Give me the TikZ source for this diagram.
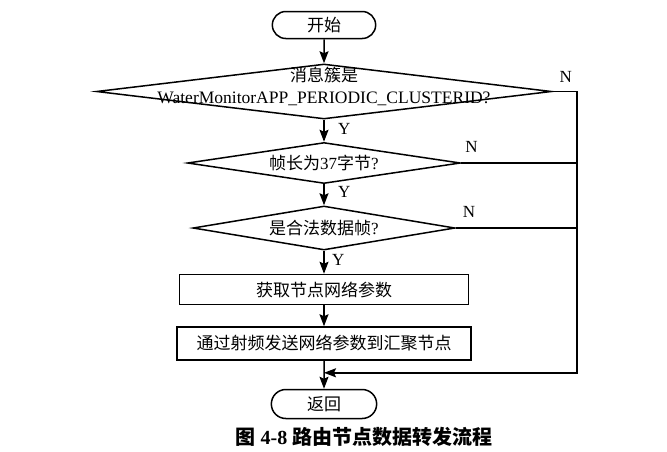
\documentclass[tikz,border=0pt]{standalone}
\usepackage{fontspec}
\setmainfont{Liberation Serif}
\newfontfamily\cjk{Noto Sans CJK SC}
\usetikzlibrary{arrows.meta,positioning,shapes.geometric,shapes.misc,calc}

\begin{document}
\begin{tikzpicture}[x=1pt, y=-1pt, >={Stealth[length=12pt,width=9pt,inset=2pt]}, line width=1.5pt,
  term/.style={rounded rectangle, draw, minimum width=110pt, minimum height=27pt,
    font=\cjk\fontsize{17}{20}\selectfont},
  dec/.style={diamond, draw, inner sep=0pt, aspect=6.5, font=\fontsize{17}{20}\selectfont},
  proc/.style={rectangle, draw, minimum height=30pt, font=\cjk\fontsize{17}{20}\selectfont},
  yn/.style={font=\fontsize{17}{20}\selectfont}]
  \useasboundingbox (0,0) rectangle (667,451);

  % Define nodes
  \node[term] (start) at (324,25) {开始};
  \node[dec, minimum width=455pt, minimum height=55pt, below=24pt of start] (cluster) {};
  \node[align=center, font=\fontsize{17.5}{22}\selectfont] (clustertext) at ([yshift=5pt]cluster.center)
    {{\cjk\fontsize{17}{22}\selectfont 消息簇是}\\WaterMonitorAPP\_PERIODIC\_CLUSTERID?};
  \node[dec, minimum width=273pt, minimum height=41pt, below=22pt of cluster] (len) {{\cjk 帧长为}37{\cjk 字节}?};
  \node[dec, minimum width=262pt, minimum height=44pt, below=21pt of len] (valid) {{\cjk 是合法数据帧}?};
  \node[proc, minimum width=289pt, below=23pt of valid] (getparam) {获取节点网络参数};
  \node[proc, minimum width=294pt, minimum height=33pt, below=21pt of getparam] (send) {通过射频发送网络参数到汇聚节点};
  \node[term, minimum width=112pt, minimum height=29pt, below=28pt of send] (ret) {返回};
  \node[font=\bfseries\fontsize{20}{24}\selectfont] (caption) at (364,437)
    {{\cjk 图} 4-8 {\cjk 路由节点数据转发流程}};

  \coordinate (rx) at (577,0);
  \coordinate (merge) at ($(send.south)!0.43!(ret.north)$);

  % Draw arrows
  \draw[->] (start) -- (cluster);
  \draw[->] (cluster) -- node[yn, right, xshift=10pt, yshift=2pt] {Y} (len);
  \draw[->] (len) -- node[yn, right, xshift=10pt, yshift=3pt] {Y} (valid);
  \draw[->] (valid) -- node[yn, right, xshift=4pt, yshift=2pt] {Y} (getparam);
  \draw[->] (getparam) -- (send);
  \draw[->] (send) -- (ret);
  \draw[->] (cluster.east) -- node[yn, above, pos=0.55, yshift=5pt] {N} (cluster.east -| rx) |- (merge);
  \draw (len.east) -- node[yn, above right, pos=0, yshift=6pt] {N} (len.east -| rx);
  \draw (valid.east) -- node[yn, above right, pos=0, yshift=6pt, xshift=3pt] {N} (valid.east -| rx);
\end{tikzpicture}
\end{document}
